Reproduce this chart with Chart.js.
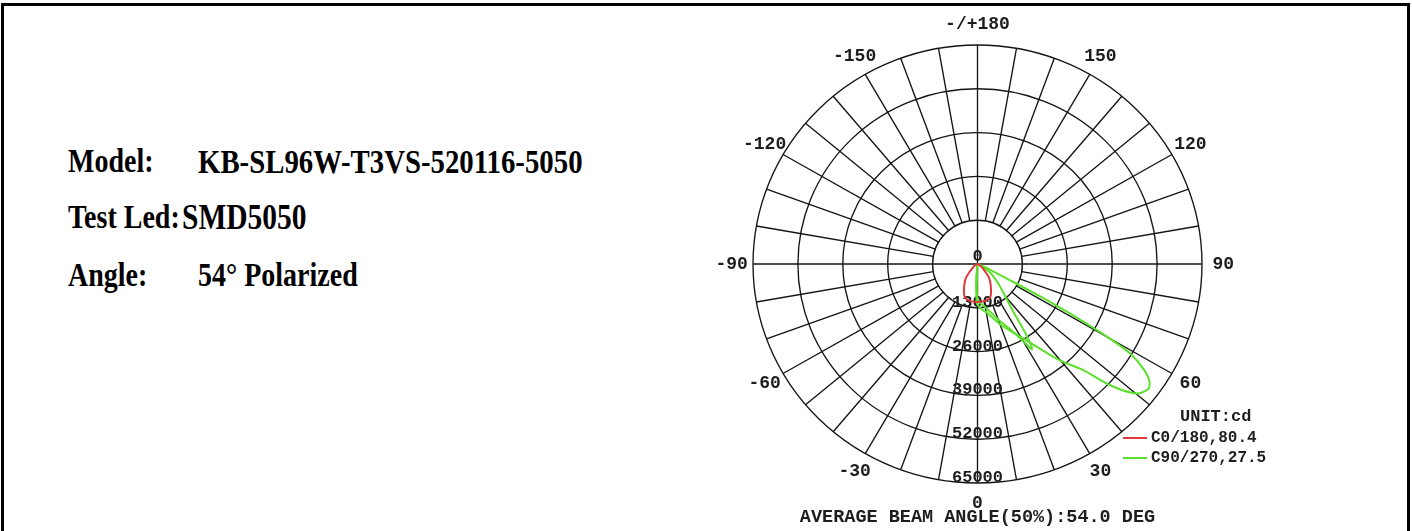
<!DOCTYPE html>
<html>
<head>
<meta charset="utf-8">
<script src="https://cdn.jsdelivr.net/npm/chart.js@4.4.1/dist/chart.umd.min.js"></script>
<style>
  html, body { margin: 0; padding: 0; background: #fff; }
  #page { position: relative; width: 1412px; height: 531px; overflow: hidden; background: #fff; }
  .rule { position: absolute; background: #000; }
  #polar { position: absolute; left: 0; top: 0; }
  .info {
    position: absolute;
    font: bold 28px "Liberation Serif", "Times New Roman", serif;
    color: #000;
    white-space: nowrap;
    line-height: 1;
    transform-origin: left center;
    transform: scaleY(1.2);
  }
</style>
</head>
<body>
<div id="page">
  <div class="rule" style="left:1px; top:3px; width:1409px; height:3px;"></div>
  <div class="rule" style="left:1px; top:3px; width:3px; height:528px;"></div>
  <div class="rule" style="left:1407px; top:3px; width:3px; height:528px;"></div>

  <div class="info" style="left:68px; top:147px;">Model:</div>
  <div class="info" style="left:198px; top:147px; font-size:28.8px;">KB-SL96W-T3VS-520116-5050</div>
  <div class="info" style="left:68px; top:203px;">Test Led:</div>
  <div class="info" style="left:182px; top:203px; font-size:29.5px;">SMD5050</div>
  <div class="info" style="left:68px; top:261px;">Angle:</div>
  <div class="info" style="left:198px; top:261px;">54° Polarized</div>

  <canvas id="polar" width="1412" height="531"></canvas>
</div>

<script>
// rings (cd) and their labels
const ringValues = [0, 13000, 26000, 39000, 52000, 65000];
const ringLabels = ['0', '13000', '26000', '39000', '52000', '65000'];

// angle labels around the diagram (0 = straight down, positive = right side)
const angleTicks = [0, 30, 60, 90, 120, 150, 180, -150, -120, -90, -60, -30];
const angleTickLabels = ['0', '30', '60', '90', '120', '150', '-/+180', '-150', '-120', '-90', '-60', '-30'];
const spokeStep = 10;

// C0/180 plane
const c0Angles = [-90, -70, -60, -50, -45, -40, -35, -30, -25, -20, -10, 0, 10, 20, 25, 30, 35, 40, 45, 50, 60, 70, 90];
const c0Values = [0, 300, 800, 1900, 3100, 5000, 6400, 7700, 9300, 10600, 11200, 11300, 11200, 10600, 9300, 7700, 6400, 5000, 3100, 1900, 800, 300, 0];

// C90/270 plane, main lobe
const c90Angles = [-10, -5, -2, 0, 5, 10, 20, 30, 35, 40, 44, 47, 50, 53, 55, 57, 59, 60, 61, 62, 63, 65, 70, 80];
const c90Values = [0, 4500, 9500, 12000, 13500, 14500, 19000, 25000, 30000, 37500, 43500, 53000, 59800, 61800, 60800, 57400, 51500, 44000, 33000, 21000, 10000, 3500, 800, 0];

// C90/270 plane, inner lobe
const c270Angles = [-5, 0, 10, 20, 26, 30, 32, 34, 36, 40, 45, 50, 55, 60, 65];
const c270Values = [0, 10500, 13000, 17500, 21500, 26500, 29800, 25000, 18000, 12500, 9000, 6500, 4500, 2000, 0];

const legendItems = ['C0/180,80.4', 'C90/270,27.5'];
const beamText = 'AVERAGE BEAM ANGLE(50%):54.0 DEG';

const RED = '#e0393b';
const GREEN = '#5ce02c';
const maxValue = ringValues[ringValues.length - 1];

function toXY(angles, values) {
  return angles.map((a, i) => {
    const r = a * Math.PI / 180;
    return { x: values[i] * Math.sin(r), y: -values[i] * Math.cos(r) };
  });
}

const polarGrid = {
  id: 'polarGrid',
  beforeDatasetsDraw(chart) {
    const { ctx, scales: { x, y } } = chart;
    const pos = (a, v) => {
      const r = a * Math.PI / 180;
      return [x.getPixelForValue(v * Math.sin(r)), y.getPixelForValue(-v * Math.cos(r))];
    };
    const cx = x.getPixelForValue(0);
    const cy = y.getPixelForValue(0);

    ctx.save();
    ctx.strokeStyle = '#141414';
    ctx.lineWidth = 1.35;

    // rings
    ringValues.forEach(v => {
      if (v === 0) return;
      ctx.beginPath();
      ctx.ellipse(cx, cy, x.getPixelForValue(v) - cx, cy - y.getPixelForValue(v), 0, 0, Math.PI * 2);
      ctx.stroke();
    });

    // spokes, main axes go through the centre
    for (let a = 0; a < 360; a += spokeStep) {
      const from = a % 90 === 0 ? 0 : ringValues[1];
      const [x0, y0] = pos(a, from);
      const [x1, y1] = pos(a, maxValue);
      ctx.beginPath();
      ctx.moveTo(x0, y0);
      ctx.lineTo(x1, y1);
      ctx.stroke();
    }

    // ring labels down the 0 axis
    ctx.fillStyle = '#1e1e1e';
    ctx.font = 'bold 17px "Liberation Mono", monospace';
    ctx.textAlign = 'center';
    ctx.textBaseline = 'alphabetic';
    ringValues.forEach((v, i) => {
      ctx.fillText(ringLabels[i], cx, y.getPixelForValue(-v) - (v === 0 ? 3 : 1));
    });

    // angle labels
    ctx.font = 'bold 18px "Liberation Mono", monospace';
    ctx.textBaseline = 'middle';
    angleTicks.forEach((a, i) => {
      const [lx, ly] = pos(a, maxValue * 1.095);
      ctx.fillText(angleTickLabels[i], lx, ly);
    });
    ctx.restore();
  },
  afterDraw(chart) {
    const { ctx, chartArea, scales: { x } } = chart;
    const cx = x.getPixelForValue(0);
    ctx.save();
    ctx.fillStyle = '#1e1e1e';
    ctx.textBaseline = 'middle';

    // legend
    const lx = chartArea.right - 79;
    ctx.font = 'bold 17px "Liberation Mono", monospace';
    ctx.textAlign = 'left';
    ctx.fillText('UNIT:cd', lx + 57, 417);
    ctx.font = 'bold 16px "Liberation Mono", monospace';
    [RED, GREEN].forEach((c, i) => {
      const ly = 438 + i * 20;
      ctx.strokeStyle = c;
      ctx.lineWidth = 2;
      ctx.beginPath();
      ctx.moveTo(lx, ly);
      ctx.lineTo(lx + 24, ly);
      ctx.stroke();
      ctx.fillText(legendItems[i], lx + 28, ly);
    });

    // beam angle caption
    ctx.font = 'bold 18.5px "Liberation Mono", monospace';
    ctx.textAlign = 'center';
    ctx.fillText(beamText, cx, 517);
    ctx.restore();
  }
};

new Chart(document.getElementById('polar'), {
  type: 'scatter',
  data: {
    datasets: [
      {
        label: legendItems[0],
        data: toXY(c0Angles, c0Values),
        showLine: true,
        borderColor: RED,
        borderWidth: 2,
        pointRadius: 0,
        tension: 0.3
      },
      {
        label: legendItems[1],
        data: toXY(c90Angles, c90Values),
        showLine: true,
        borderColor: GREEN,
        borderWidth: 2,
        pointRadius: 0,
        tension: 0.3
      },
      {
        label: legendItems[1],
        data: toXY(c270Angles, c270Values),
        showLine: true,
        borderColor: GREEN,
        borderWidth: 2,
        pointRadius: 0,
        tension: 0.3
      }
    ]
  },
  options: {
    responsive: false,
    animation: false,
    layout: {
      padding: { left: 753, right: 210, top: 45, bottom: 48 }
    },
    plugins: {
      legend: { display: false },
      tooltip: { enabled: false }
    },
    scales: {
      x: { type: 'linear', min: -maxValue, max: maxValue, display: false },
      y: { type: 'linear', min: -maxValue, max: maxValue, display: false }
    }
  },
  plugins: [polarGrid]
});
</script>
</body>
</html>
